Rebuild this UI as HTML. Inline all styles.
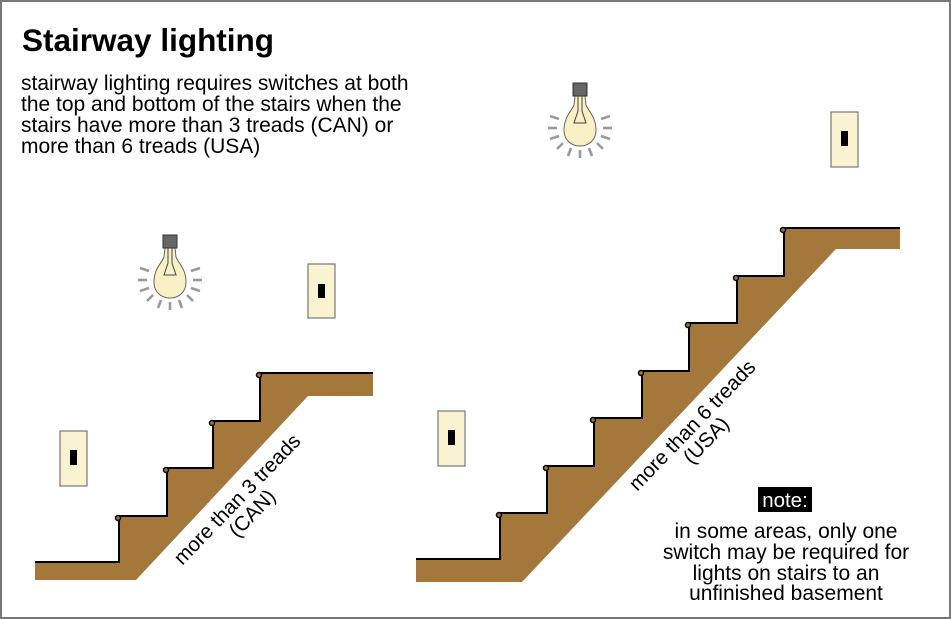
<!DOCTYPE html>
<html><head><style>
html,body{margin:0;padding:0;background:#fff}
svg{display:block}
text{font-family:"Liberation Sans",Arial,sans-serif}
</style></head><body>
<svg width="951" height="619" viewBox="0 0 951 619" xmlns="http://www.w3.org/2000/svg">
<defs></defs>
<rect x="1" y="1" width="949" height="617" fill="#fff" stroke="#777" stroke-width="2"/>
<text x="22" y="51" font-size="31.5" font-weight="bold">Stairway lighting</text>
<g font-size="21">
<text x="21" y="90">stairway lighting requires switches at both</text>
<text x="21" y="111">the top and bottom of the stairs when the</text>
<text x="21" y="132">stairs have more than 3 treads (CAN) or</text>
<text x="21" y="153">more than 6 treads (USA)</text>
</g>

<!-- left stair -->
<path d="M35,562 L119,562 L119,516 L167,516 L167,468 L213,468 L213,421 L260,421 L260,373 L373,373 L373,396 L308,396 L136,580 L35,580 Z" fill="#a4773b"/>
<path d="M35,562 L119,562 L119,516 M119,516 L167,516 L167,468 M167,468 L213,468 L213,421 M213,421 L260,421 L260,373 L373,373" fill="none" stroke="#000" stroke-width="2"/>
<g fill="#a4773b" stroke="#000" stroke-width="1.5">
<circle cx="118" cy="518" r="2.5"/><circle cx="166" cy="470" r="2.5"/><circle cx="212" cy="423" r="2.5"/><circle cx="259" cy="375" r="2.5"/>
</g>
<text font-size="20.5" text-anchor="middle" transform="translate(242,504) rotate(-46)">more than 3 treads</text>
<text font-size="20.5" text-anchor="middle" transform="translate(257,518) rotate(-46)">(CAN)</text>

<!-- right stair -->
<path d="M416,559 L500,559 L500,513 L547,513 L547,466 L594,466 L594,418 L642,418 L642,371 L689,371 L689,323 L737,323 L737,276 L784,276 L784,228 L900,228 L900,249 L836,249 L522,582 L416,582 Z" fill="#a4773b"/>
<path d="M416,559 L500,559 L500,513 L547,513 L547,466 L594,466 L594,418 L642,418 L642,371 L689,371 L689,323 L737,323 L737,276 L784,276 L784,228 L900,228" fill="none" stroke="#000" stroke-width="2"/>
<g fill="#a4773b" stroke="#000" stroke-width="1.5">
<circle cx="499" cy="515" r="2.5"/><circle cx="546" cy="468" r="2.5"/><circle cx="593" cy="420" r="2.5"/><circle cx="641" cy="373" r="2.5"/><circle cx="688" cy="325" r="2.5"/><circle cx="736" cy="278" r="2.5"/><circle cx="783" cy="230" r="2.5"/>
</g>
<text font-size="20.5" text-anchor="middle" transform="translate(697,430) rotate(-46)">more than 6 treads</text>
<text font-size="20.5" text-anchor="middle" transform="translate(711,445) rotate(-46)">(USA)</text>

<!-- switches -->
<g fill="#faf3d2" stroke="#777" stroke-width="1.2">
<rect x="308" y="264" width="27" height="54"/>
<rect x="60" y="431" width="27" height="55"/>
<rect x="831" y="112" width="27" height="55"/>
<rect x="438" y="411" width="27" height="55"/>
</g>
<g fill="#000">
<rect x="318" y="284" width="7" height="14"/>
<rect x="70" y="450" width="7" height="15"/>
<rect x="841" y="131" width="7" height="15"/>
<rect x="448" y="430" width="7" height="15"/>
</g>

<!-- bulbs -->
<g transform="translate(580,125)">
<g stroke="#999" stroke-width="2.6">
<line x1="-30" y1="-9" x2="-21" y2="-6"/><line x1="-32" y1="3" x2="-23" y2="3"/><line x1="-30" y1="14" x2="-21" y2="11"/>
<line x1="-23" y1="24" x2="-17" y2="18"/><line x1="-12" y1="31" x2="-9" y2="23"/><line x1="0" y1="33" x2="0" y2="25"/>
<line x1="12" y1="31" x2="9" y2="23"/><line x1="23" y1="24" x2="17" y2="18"/><line x1="30" y1="14" x2="21" y2="11"/>
<line x1="32" y1="3" x2="23" y2="3"/><line x1="30" y1="-9" x2="21" y2="-6"/>
</g>
<path d="M-5,-29 L5,-29 L6,-20 C9,-13 16,-8 16,5 C16,15 9,21 0,21 C-9,21 -16,15 -16,5 C-16,-8 -9,-13 -6,-20 Z" fill="#faf0c6" stroke="#666" stroke-width="1"/>
<path d="M-2,-29 L-2,-14 L-6,-2 L6,-2 L2,-14 L2,-29" fill="none" stroke="#444" stroke-width="1"/>
<rect x="-7" y="-42" width="14" height="13" fill="#666" stroke="#333" stroke-width="1"/>
</g>
<g transform="translate(170,277)">
<g stroke="#999" stroke-width="2.6">
<line x1="-30" y1="-9" x2="-21" y2="-6"/><line x1="-32" y1="3" x2="-23" y2="3"/><line x1="-30" y1="14" x2="-21" y2="11"/>
<line x1="-23" y1="24" x2="-17" y2="18"/><line x1="-12" y1="31" x2="-9" y2="23"/><line x1="0" y1="33" x2="0" y2="25"/>
<line x1="12" y1="31" x2="9" y2="23"/><line x1="23" y1="24" x2="17" y2="18"/><line x1="30" y1="14" x2="21" y2="11"/>
<line x1="32" y1="3" x2="23" y2="3"/><line x1="30" y1="-9" x2="21" y2="-6"/>
</g>
<path d="M-5,-29 L5,-29 L6,-20 C9,-13 16,-8 16,5 C16,15 9,21 0,21 C-9,21 -16,15 -16,5 C-16,-8 -9,-13 -6,-20 Z" fill="#faf0c6" stroke="#666" stroke-width="1"/>
<path d="M-2,-29 L-2,-14 L-6,-2 L6,-2 L2,-14 L2,-29" fill="none" stroke="#444" stroke-width="1"/>
<rect x="-7" y="-42" width="14" height="13" fill="#666" stroke="#333" stroke-width="1"/>
</g>

<!-- note -->
<rect x="758" y="487" width="54" height="25" fill="#000"/>
<text x="785" y="507" font-size="20.5" fill="#fff" text-anchor="middle">note:</text>
<g font-size="21" text-anchor="middle">
<text x="786" y="538">in some areas, only one</text>
<text x="786" y="559">switch may be required for</text>
<text x="786" y="580">lights on stairs to an</text>
<text x="786" y="600">unfinished basement</text>
</g>
</svg>
</body></html>
